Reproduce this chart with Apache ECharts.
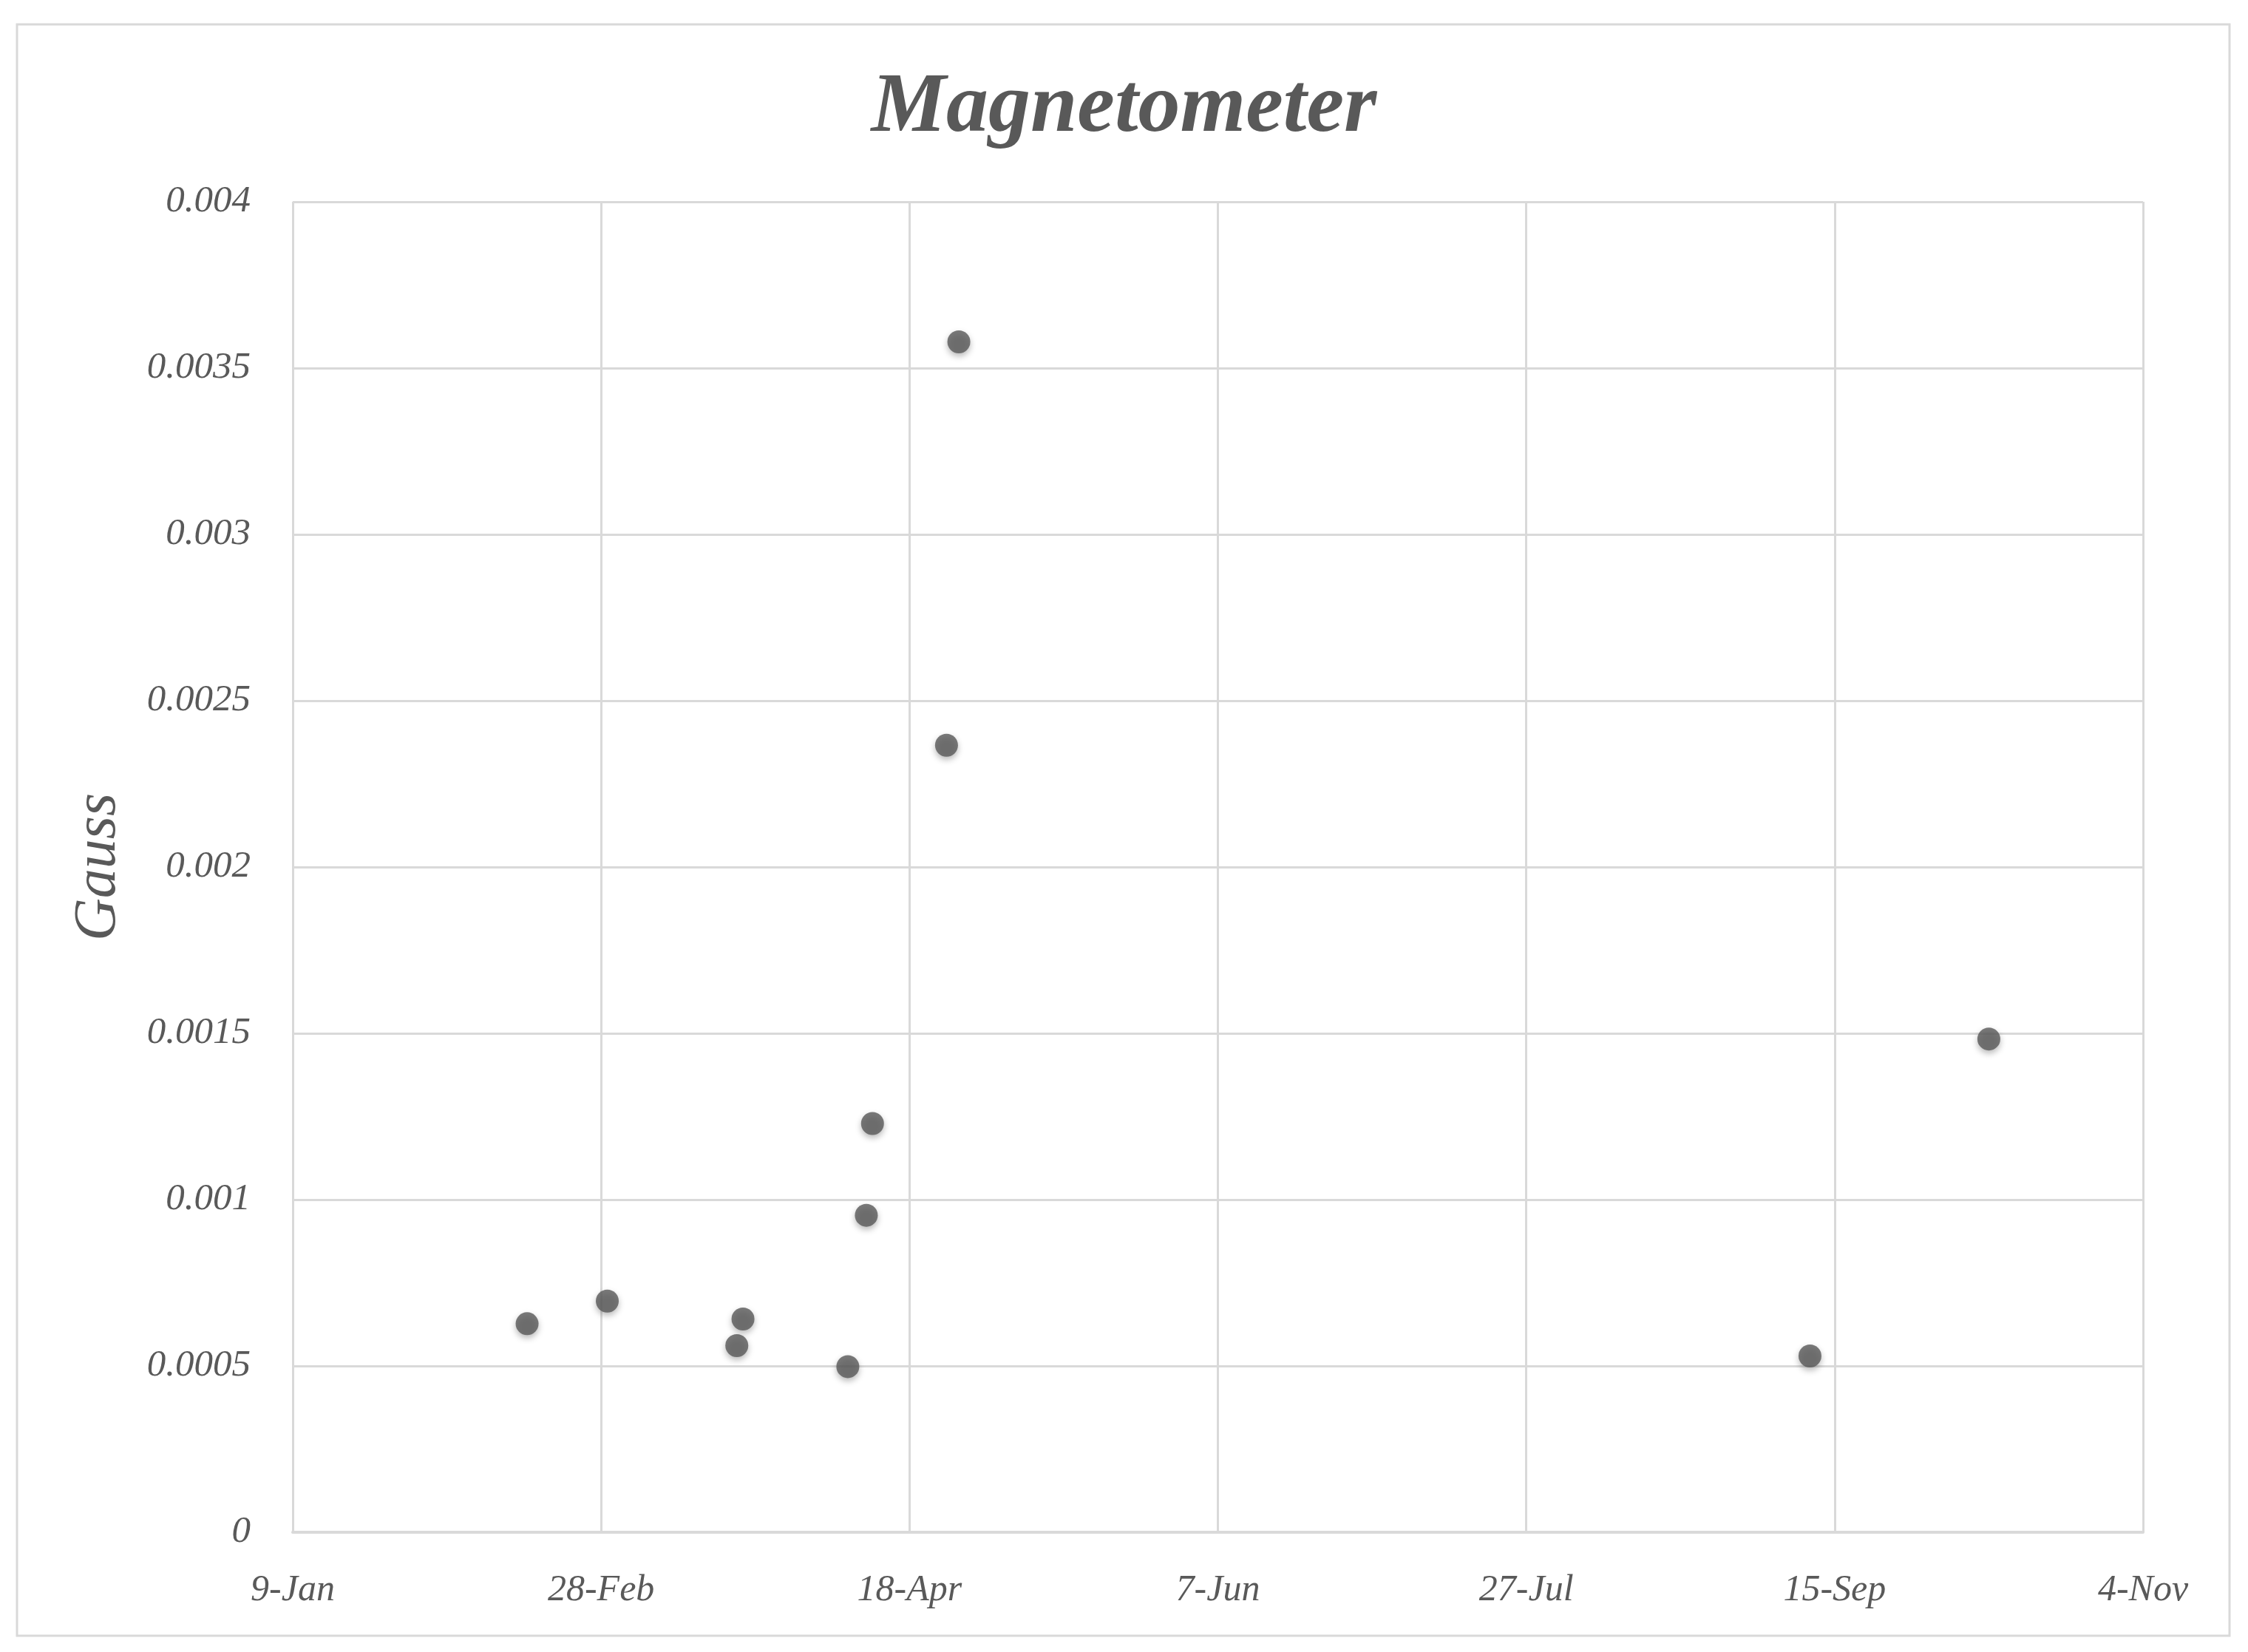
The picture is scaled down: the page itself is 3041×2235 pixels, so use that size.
<!DOCTYPE html>
<html>
<head>
<meta charset="utf-8">
<title>Magnetometer</title>
<script src="https://cdn.jsdelivr.net/npm/echarts@6/dist/echarts.min.js"></script>
<style>
  html, body { margin: 0; padding: 0; background: #fff; }
  #chart { width: 3041px; height: 2235px; }
</style>
</head>
<body>
<div id="chart"></div>
<script>
// measurement dates (x) and field strength in Gauss (y)
const dates = [
  '2020-02-16', '2020-02-29', '2020-03-21', '2020-03-22', '2020-04-08',
  '2020-04-11', '2020-04-12', '2020-04-24', '2020-04-26', '2020-09-11', '2020-10-10'
];
const gauss = [
  0.000627, 0.000695, 0.000561, 0.000641, 0.000498,
  0.000953, 0.001229, 0.002366, 0.003579, 0.00053, 0.001483
];

// x axis: days counted from the first tick (9-Jan)
const startDate = '2020-01-09';
const xMin = 0;
const xMax = 300;
const xStep = 50;
const yTicks = [0, 0.0005, 0.001, 0.0015, 0.002, 0.0025, 0.003, 0.0035, 0.004];
const months = ['Jan', 'Feb', 'Mar', 'Apr', 'May', 'Jun', 'Jul', 'Aug', 'Sep', 'Oct', 'Nov', 'Dec'];

const DAY = 86400000;
const t0 = Date.parse(startDate + 'T00:00:00Z');
const toDays = (s) => Math.round((Date.parse(s + 'T00:00:00Z') - t0) / DAY);
const dayLabel = (v) => {
  const d = new Date(t0 + v * DAY);
  return d.getUTCDate() + '-' + months[d.getUTCMonth()];
};

const points = dates.map((d, i) => [toDays(d), gauss[i]]);

const textColor = '#595959';
const gridColor = '#d9d9d9';
const font = '"Liberation Serif", "DejaVu Serif", serif';

const chart = echarts.init(document.getElementById('chart'));

chart.setOption({
  backgroundColor: '#ffffff',
  animation: false,
  title: {
    text: 'Magnetometer',
    left: 'center',
    top: 86,
    textStyle: {
      color: textColor,
      fontFamily: font,
      fontStyle: 'italic',
      fontWeight: 'bold',
      fontSize: 114
    }
  },
  graphic: [
    {
      type: 'rect',
      shape: { x: 23, y: 33, width: 2993, height: 2180 },
      style: { fill: 'none', stroke: gridColor, lineWidth: 3 },
      silent: true
    }
  ],
  grid: {
    left: 396,
    right: 142,
    top: 273,
    bottom: 162
  },
  xAxis: {
    type: 'value',
    min: xMin,
    max: xMax,
    interval: xStep,
    axisLine: { show: true, lineStyle: { color: gridColor, width: 4 } },
    axisTick: { show: false },
    splitLine: { show: true, lineStyle: { color: gridColor, width: 3 } },
    axisLabel: {
      margin: 54,
      color: textColor,
      fontFamily: font,
      fontStyle: 'italic',
      fontSize: 50,
      formatter: (v) => dayLabel(v)
    }
  },
  yAxis: {
    type: 'value',
    min: yTicks[0],
    max: yTicks[yTicks.length - 1],
    interval: yTicks[1] - yTicks[0],
    name: 'Gauss',
    nameLocation: 'middle',
    nameGap: 222,
    nameTextStyle: {
      color: textColor,
      fontFamily: font,
      fontStyle: 'italic',
      fontSize: 80
    },
    axisLine: { show: false },
    axisTick: { show: false },
    splitLine: { show: true, lineStyle: { color: gridColor, width: 3 } },
    axisLabel: {
      margin: 57,
      color: textColor,
      fontFamily: font,
      fontStyle: 'italic',
      fontSize: 51,
      formatter: (v) => String(+v.toFixed(4))
    }
  },
  series: [
    {
      name: 'Gauss',
      type: 'scatter',
      symbol: 'circle',
      symbolSize: 31,
      data: points,
      itemStyle: {
        color: '#595959',
        shadowColor: 'rgba(0, 0, 0, 0.35)',
        shadowBlur: 9,
        shadowOffsetY: 4
      }
    }
  ]
});
</script>
</body>
</html>
